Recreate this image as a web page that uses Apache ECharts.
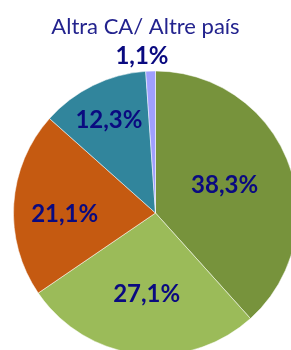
<!DOCTYPE html>
<html>
<head>
<meta charset="utf-8">
<script src="https://cdn.jsdelivr.net/npm/echarts@6/dist/echarts.min.js"></script>
<style>
  html, body { margin: 0; padding: 0; background: #fff; }
  #chart { width: 291px; height: 350px; }
</style>
</head>
<body>
<div id="chart"></div>
<script>
// data, clockwise from 12 o'clock
const categories = ['A', 'B', 'C', 'D', 'Altra CA/ Altre país'];
const values = [38.3, 27.1, 21.1, 12.3, 1.1];
const colors = ['#77933C', '#9BBB59', '#C55A11', '#31859C', '#9F9FFF'];

// manual nudges of the percentage labels, like the original
const labelShift = [[0, -1], [0, 8], [-17, 6], [-14, -26], [-11, -83]];

const chart = echarts.init(document.getElementById('chart'));
chart.setOption({
    animation: false,
    title: {
        text: 'Altra CA/ Altre país',
        left: 'center',
        top: 11,
        textStyle: { fontFamily: 'Lato', fontWeight: 'normal', fontSize: 22, color: '#23238E' }
    },
    series: [{
        type: 'pie',
        center: [155.5, 213],
        radius: 142,
        startAngle: 90,
        clockwise: true,
        data: values.map((v, i) => ({ name: categories[i], value: v, itemStyle: { color: colors[i] } })),
        itemStyle: { borderColor: '#fff', borderWidth: 0.5 },
        label: {
            show: true,
            position: 'inside',
            formatter: p => p.value.toFixed(1).replace('.', ',') + '%',
            fontFamily: 'Lato',
            fontWeight: 'bold',
            fontSize: 24,
            color: '#0A0A80'
        },
        labelLine: { show: false },
        labelLayout: p => ({ dx: labelShift[p.dataIndex][0], dy: labelShift[p.dataIndex][1] }),
        emphasis: { disabled: true }
    }]
});
</script>
</body>
</html>
